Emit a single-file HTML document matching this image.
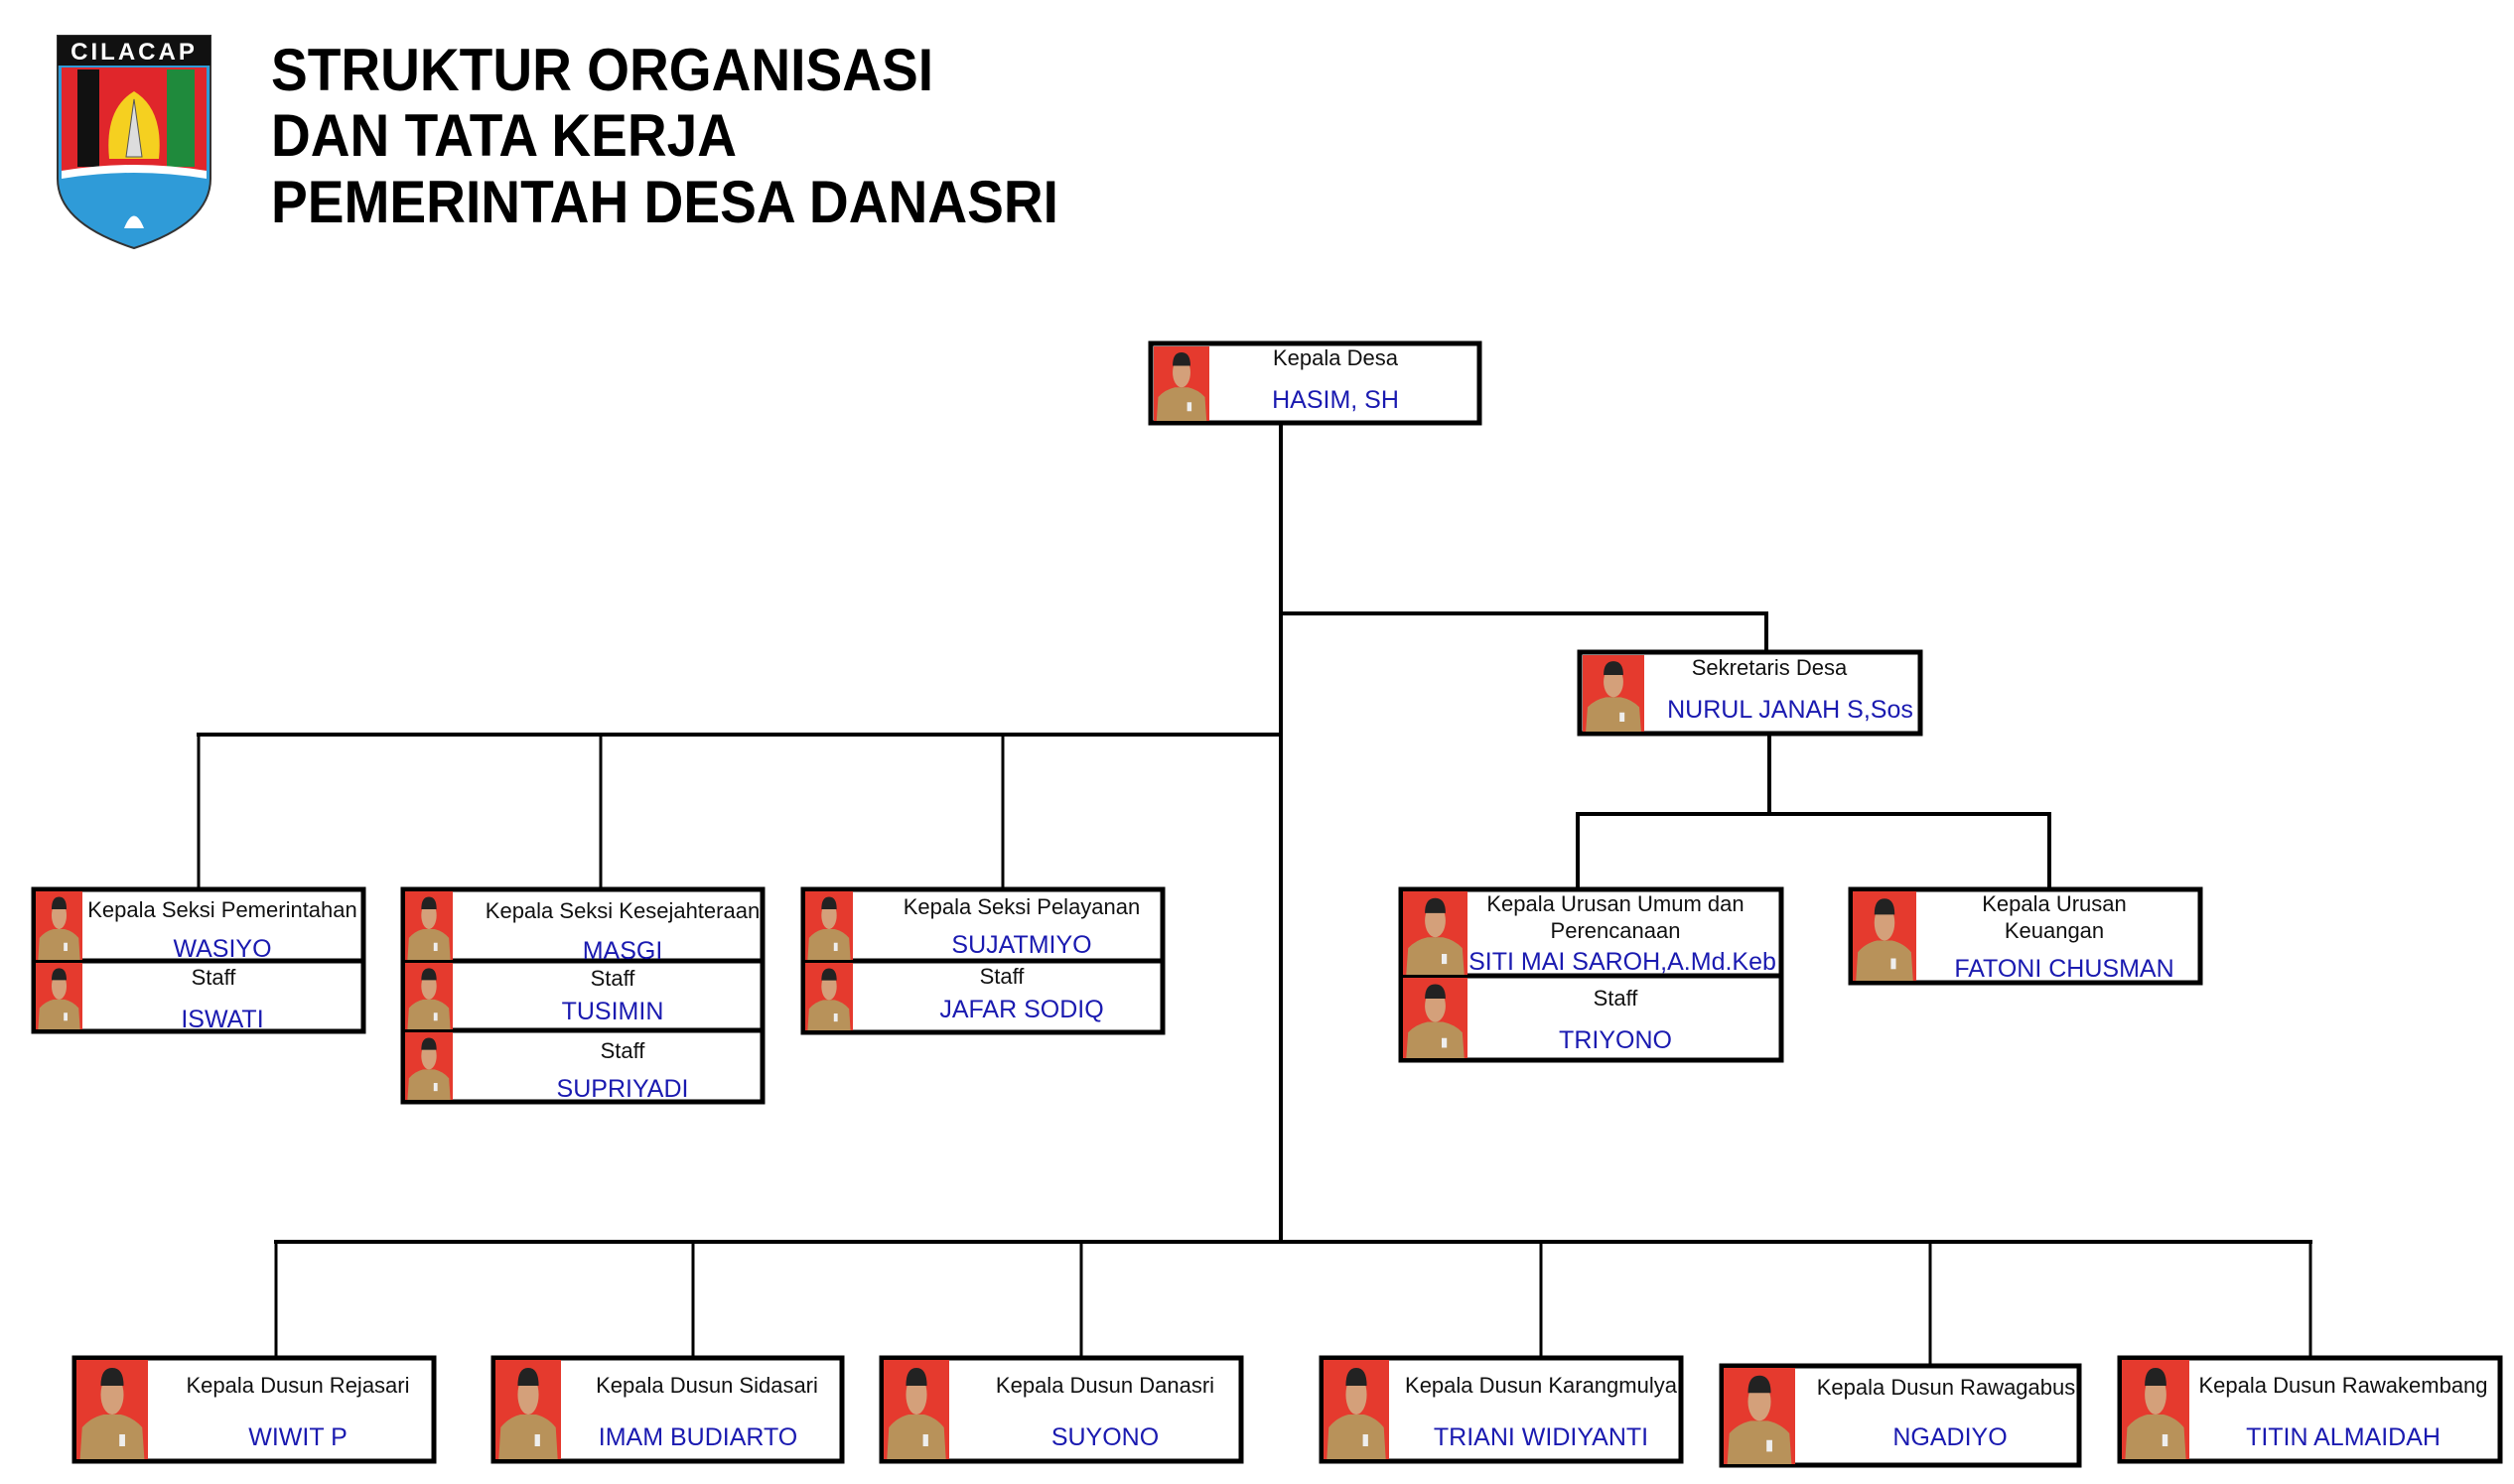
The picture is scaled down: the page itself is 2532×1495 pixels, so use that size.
<!DOCTYPE html>
<html><head><meta charset="utf-8"><style>
html,body{margin:0;padding:0;background:#fff;}
svg{display:block;}
text{font-family:"Liberation Sans",Arial,sans-serif;}
.l{font-size:22px;fill:#111;text-anchor:middle;}
.n{font-size:25px;fill:#1a1ab0;text-anchor:middle;}
.b{fill:#fff;stroke:#000;stroke-width:5;}
.c{stroke:#000;fill:none;}
</style></head><body>
<svg width="2532" height="1495" viewBox="0 0 2532 1495" xmlns="http://www.w3.org/2000/svg">
<defs>
<g id="p">
<rect x="0" y="0" width="100" height="100" fill="#e53a2e"/>
<path d="M5 100 L8 68 Q20 58 38 55 L62 55 Q80 58 92 68 L95 100 Z" fill="#b8925a"/>
<ellipse cx="50" cy="35" rx="16" ry="20" fill="#d4a07a"/>
<path d="M34 26 Q34 8 50 8 Q66 8 66 26 Z" fill="#222"/>
<rect x="60" y="75" width="8" height="12" fill="#eee"/>
</g>
</defs>

<!-- Logo -->
<path d="M58 36 L212 36 L212 180 Q212 225 135 250 Q58 225 58 180 Z" fill="#2f9bd8" stroke="#333" stroke-width="2"/>
<rect x="58" y="36" width="154" height="30" fill="#111"/>
<text x="135" y="60" font-size="24" font-weight="bold" fill="#fff" text-anchor="middle" letter-spacing="3">CILACAP</text>
<rect x="62" y="68" width="146" height="104" fill="#e0262b"/>
<rect x="78" y="70" width="22" height="98" fill="#111"/>
<rect x="168" y="70" width="28" height="98" fill="#1f8a3c"/>
<path d="M110 160 Q105 110 135 92 Q165 110 160 160 Z" fill="#f5d020"/>
<path d="M127 158 L135 100 L143 158 Z" fill="#ddd" stroke="#555" stroke-width="1"/>
<path d="M62 172 Q135 160 208 172 L208 180 Q135 168 62 180 Z" fill="#fff"/>
<path d="M125 230 Q135 205 145 230 Z" fill="#fff"/>

<!-- Titles -->
<text x="273" y="91" font-size="60" font-weight="bold" textLength="667" lengthAdjust="spacingAndGlyphs" fill="#000">STRUKTUR ORGANISASI</text>
<text x="273" y="157" font-size="60" font-weight="bold" textLength="469" lengthAdjust="spacingAndGlyphs" fill="#000">DAN TATA KERJA</text>
<text x="273" y="224" font-size="60" font-weight="bold" textLength="793" lengthAdjust="spacingAndGlyphs" fill="#000">PEMERINTAH DESA DANASRI</text>

<!-- Connectors -->
<g class="c" stroke-width="4">
<line x1="1290" y1="428" x2="1290" y2="1253"/>
<polyline points="1288,618 1779,618 1779,657"/>
<line x1="1782" y1="740" x2="1782" y2="820"/>
<polyline points="1589,901 1589,820 2064,820 2064,901"/>
<line x1="198" y1="740" x2="1292" y2="740"/>
<line x1="276" y1="1251" x2="2329" y2="1251"/>
</g>
<g class="c" stroke-width="3">
<line x1="200" y1="740" x2="200" y2="896"/>
<line x1="605" y1="740" x2="605" y2="896"/>
<line x1="1010" y1="740" x2="1010" y2="896"/>
<line x1="278" y1="1251" x2="278" y2="1371"/>
<line x1="698" y1="1251" x2="698" y2="1371"/>
<line x1="1089" y1="1251" x2="1089" y2="1371"/>
<line x1="1552" y1="1251" x2="1552" y2="1371"/>
<line x1="1944" y1="1251" x2="1944" y2="1378"/>
<line x1="2327" y1="1251" x2="2327" y2="1371"/>
</g>

<!-- Kepala Desa -->
<rect class="b" x="1159" y="346" width="331" height="80"/>
<use href="#p" transform="translate(1162,349) scale(0.56,0.75)"/>
<text class="l" x="1345" y="368">Kepala Desa</text>
<text class="n" x="1345" y="411">HASIM, SH</text>

<!-- Sekretaris -->
<rect class="b" x="1591" y="657" width="343" height="82"/>
<use href="#p" transform="translate(1594,660) scale(0.62,0.77)"/>
<text class="l" x="1782" y="680">Sekretaris Desa</text>
<text class="n" x="1803" y="723">NURUL JANAH S,Sos</text>

<!-- Seksi Pemerintahan -->
<rect class="b" x="34" y="896" width="332" height="143"/>
<line x1="34" y1="968" x2="366" y2="968" stroke="#000" stroke-width="5"/>
<use href="#p" transform="translate(36,898) scale(0.47,0.69)"/>
<use href="#p" transform="translate(36,970) scale(0.47,0.67)"/>
<text class="l" x="224" y="924">Kepala Seksi Pemerintahan</text>
<text class="n" x="224" y="964">WASIYO</text>
<text class="l" x="215" y="992">Staff</text>
<text class="n" x="224" y="1035">ISWATI</text>

<!-- Seksi Kesejahteraan -->
<rect class="b" x="406" y="896" width="362" height="214"/>
<line x1="406" y1="968" x2="768" y2="968" stroke="#000" stroke-width="5"/>
<line x1="406" y1="1038" x2="768" y2="1038" stroke="#000" stroke-width="5"/>
<use href="#p" transform="translate(408,898) scale(0.48,0.69)"/>
<use href="#p" transform="translate(408,970) scale(0.48,0.67)"/>
<use href="#p" transform="translate(408,1040) scale(0.48,0.68)"/>
<text class="l" x="627" y="925">Kepala Seksi Kesejahteraan</text>
<text class="n" x="627" y="966">MASGI</text>
<text class="l" x="617" y="993">Staff</text>
<text class="n" x="617" y="1027">TUSIMIN</text>
<text class="l" x="627" y="1066">Staff</text>
<text class="n" x="627" y="1105">SUPRIYADI</text>

<!-- Seksi Pelayanan -->
<rect class="b" x="809" y="896" width="362" height="144"/>
<line x1="809" y1="968" x2="1171" y2="968" stroke="#000" stroke-width="5"/>
<use href="#p" transform="translate(811,898) scale(0.48,0.69)"/>
<use href="#p" transform="translate(811,970) scale(0.48,0.68)"/>
<text class="l" x="1029" y="921">Kepala Seksi Pelayanan</text>
<text class="n" x="1029" y="960">SUJATMIYO</text>
<text class="l" x="1009" y="991">Staff</text>
<text class="n" x="1029" y="1025">JAFAR SODIQ</text>

<!-- Kaur Umum -->
<rect class="b" x="1411" y="896" width="383" height="172"/>
<line x1="1411" y1="983" x2="1794" y2="983" stroke="#000" stroke-width="5"/>
<use href="#p" transform="translate(1413,898) scale(0.65,0.84)"/>
<use href="#p" transform="translate(1413,985) scale(0.65,0.81)"/>
<text class="l" x="1627" y="918">Kepala Urusan Umum dan</text>
<text class="l" x="1627" y="945">Perencanaan</text>
<text class="n" x="1634" y="977">SITI MAI SAROH,A.Md.Keb</text>
<text class="l" x="1627" y="1013">Staff</text>
<text class="n" x="1627" y="1056">TRIYONO</text>

<!-- Kaur Keuangan -->
<rect class="b" x="1864" y="896" width="352" height="94"/>
<use href="#p" transform="translate(1866,898) scale(0.64,0.9)"/>
<text class="l" x="2069" y="918">Kepala Urusan</text>
<text class="l" x="2069" y="945">Keuangan</text>
<text class="n" x="2079" y="984">FATONI CHUSMAN</text>

<!-- Dusun -->
<rect class="b" x="75" y="1368" width="362" height="104"/>
<use href="#p" transform="translate(77,1370) scale(0.72,1.0)"/>
<text class="l" x="300" y="1403">Kepala Dusun Rejasari</text>
<text class="n" x="300" y="1456">WIWIT P</text>

<rect class="b" x="497" y="1368" width="351" height="104"/>
<use href="#p" transform="translate(499,1370) scale(0.66,1.0)"/>
<text class="l" x="712" y="1403">Kepala Dusun Sidasari</text>
<text class="n" x="703" y="1456">IMAM BUDIARTO</text>

<rect class="b" x="888" y="1368" width="362" height="104"/>
<use href="#p" transform="translate(890,1370) scale(0.66,1.0)"/>
<text class="l" x="1113" y="1403">Kepala Dusun Danasri</text>
<text class="n" x="1113" y="1456">SUYONO</text>

<rect class="b" x="1331" y="1368" width="362" height="104"/>
<use href="#p" transform="translate(1333,1370) scale(0.66,1.0)"/>
<text class="l" x="1552" y="1403">Kepala Dusun Karangmulya</text>
<text class="n" x="1552" y="1456">TRIANI WIDIYANTI</text>

<rect class="b" x="1734" y="1376" width="360" height="100"/>
<use href="#p" transform="translate(1736,1378) scale(0.72,0.97)"/>
<text class="l" x="1960" y="1405">Kepala Dusun Rawagabus</text>
<text class="n" x="1964" y="1456">NGADIYO</text>

<rect class="b" x="2135" y="1368" width="383" height="104"/>
<use href="#p" transform="translate(2137,1370) scale(0.68,1.0)"/>
<text class="l" x="2360" y="1403">Kepala Dusun Rawakembang</text>
<text class="n" x="2360" y="1456">TITIN ALMAIDAH</text>
</svg>
</body></html>
